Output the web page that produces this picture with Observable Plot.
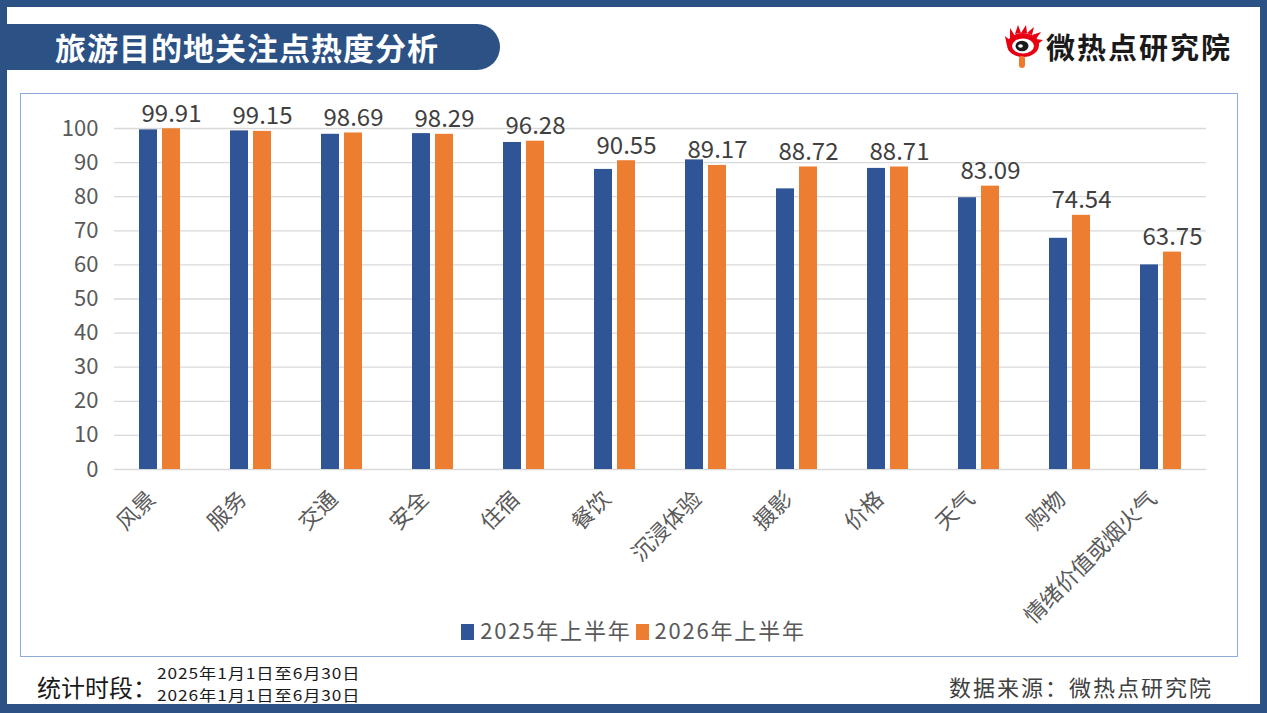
<!DOCTYPE html>
<html><head><meta charset="utf-8">
<script src="https://cdn.jsdelivr.net/npm/d3@7"></script>
<script src="https://cdn.jsdelivr.net/npm/@observablehq/plot@0.6"></script>
<style>
body{margin:0;background:#fff;}
#frame{position:relative;width:1267px;height:713px;background:#2c5285;overflow:hidden;font-family:"Noto Sans CJK SC","Noto Sans",sans-serif;}
#inner{position:absolute;left:7px;top:7px;width:1253px;height:697px;background:#fff;}
#title{position:absolute;left:0;top:24px;width:500px;height:46px;background:#2c5285;border-radius:0 23px 23px 0;color:#fff;font-weight:bold;font-size:31px;line-height:46px;padding-left:55px;box-sizing:border-box;letter-spacing:1px;}
#logo{position:absolute;left:1004px;top:24px;}
#logotext{position:absolute;left:1046px;top:26px;font-size:29px;font-weight:bold;color:#1a1a1a;line-height:40px;letter-spacing:2px;}
#box{position:absolute;left:20px;top:93px;width:1218px;height:564px;border:1.5px solid #8eaadb;box-sizing:border-box;}
#chart{position:absolute;left:20px;top:93px;}
#legend{position:absolute;left:0;width:1267px;top:614px;text-align:center;font-size:22px;color:#595959;line-height:30px;letter-spacing:1.8px;}
#legend span.sw{display:inline-block;width:13px;height:16px;vertical-align:-1px;margin:0 6px 0 0;}
#legend span.it{margin:0 2px;}
#period{position:absolute;left:37px;top:671px;font-size:24px;color:#1a1a1a;line-height:32px;}
.date{position:absolute;left:157px;font-size:15px;color:#1a1a1a;line-height:21px;letter-spacing:0.8px;transform:scaleX(1.15);transform-origin:0 50%;white-space:nowrap;}
#source{position:absolute;right:54px;top:670px;font-size:22px;color:#404040;line-height:32px;letter-spacing:2px;}
</style></head>
<body>
<div id="frame">
<div id="inner"></div>
<div id="title">旅游目的地关注点热度分析</div>
<svg id="logo" width="40" height="46" viewBox="0 0 40 46">
  <g fill="#e60012">
    <polygon points="3,22 1,12 7,17"/>
    <polygon points="6,14 6,4 11,12"/>
    <polygon points="11,10 14,1 17,9"/>
    <polygon points="17,9 22,1 23,9"/>
    <polygon points="23,9 30,3 28,11"/>
    <polygon points="28,11 37,8 32,15"/>
    <polygon points="32,15 39,16 34,20"/>
    <ellipse cx="19" cy="21" rx="16" ry="12"/>
  </g>
  <ellipse cx="19" cy="22" rx="11" ry="7.5" fill="#fff"/>
  <ellipse cx="18" cy="22" rx="6.5" ry="5.2" fill="#1a1a1a"/>
  <ellipse cx="16.5" cy="22" rx="2.4" ry="1.8" fill="#fff"/>
  <rect x="15" y="32" width="6" height="12" rx="3" fill="#f07a2a"/>
</svg>
<div id="logotext">微热点研究院</div>
<div id="box"></div>
<div id="chart"></div>
<div id="legend"><span class="it"><span class="sw" style="background:#2f5597"></span>2025年上半年</span><span class="it"><span class="sw" style="background:#ed7d31"></span>2026年上半年</span></div>
<div id="period">统计时段：</div>
<div class="date" style="top:662px">2025年1月1日至6月30日</div>
<div class="date" style="top:684px">2026年1月1日至6月30日</div>
<div id="source">数据来源：微热点研究院</div>
</div>
<script>
const categories = ["风景","服务","交通","安全","住宿","餐饮","沉浸体验","摄影","价格","天气","购物","情绪价值或烟火气"];
const series = ["2025年上半年","2026年上半年"];
const values2025 = [99.6, 99.3, 98.3, 98.5, 95.9, 88.0, 90.8, 82.3, 88.3, 79.7, 67.8, 60.0];
const values2026 = [99.91, 99.15, 98.69, 98.29, 96.28, 90.55, 89.17, 88.72, 88.71, 83.09, 74.54, 63.75];
const yTicks = [0,10,20,30,40,50,60,70,80,90,100];
const colors = ["#2f5597","#ed7d31"];

const rows = [];
categories.forEach((c,i)=>{
  rows.push({cat:c, series:series[0], value:values2025[i]});
  rows.push({cat:c, series:series[1], value:values2026[i]});
});
const labels = rows.filter(d=>d.series===series[1]);

const plot = Plot.plot({
  width:1218, height:560,
  marginLeft:93, marginRight:31, marginTop:35, marginBottom:184,
  style:{fontFamily:'"Noto Sans CJK SC","Noto Sans",sans-serif', background:"transparent"},
  fx:{domain:categories, padding:0, label:null},
  x:{domain:series, paddingInner:0.2, paddingOuter:1.0, axis:null},
  y:{domain:[0,100], label:null},
  color:{domain:series, range:colors},
  marks:[
    Plot.gridY(yTicks, {stroke:"#d9d9d9", strokeOpacity:1, strokeWidth:1.3}),
    Plot.axisY(yTicks, {tickSize:0, tickPadding:16, fontSize:22, fill:"#595959", label:null}),
    Plot.axisFx({anchor:"bottom", tickSize:0, tickRotate:-45, tickPadding:26, fontSize:22, fill:"#595959", label:null, dx:-8}),
    Plot.barY(rows, {fx:"cat", x:"series", y:"value", fill:"series"}),
    Plot.text(labels, {fx:"cat", x:"series", y:"value", text:d=>d.value.toFixed(2), dy:-7, lineAnchor:"bottom", fontSize:24, fill:"#404040"})
  ]
});
document.getElementById("chart").appendChild(plot);
</script>
</body></html>
